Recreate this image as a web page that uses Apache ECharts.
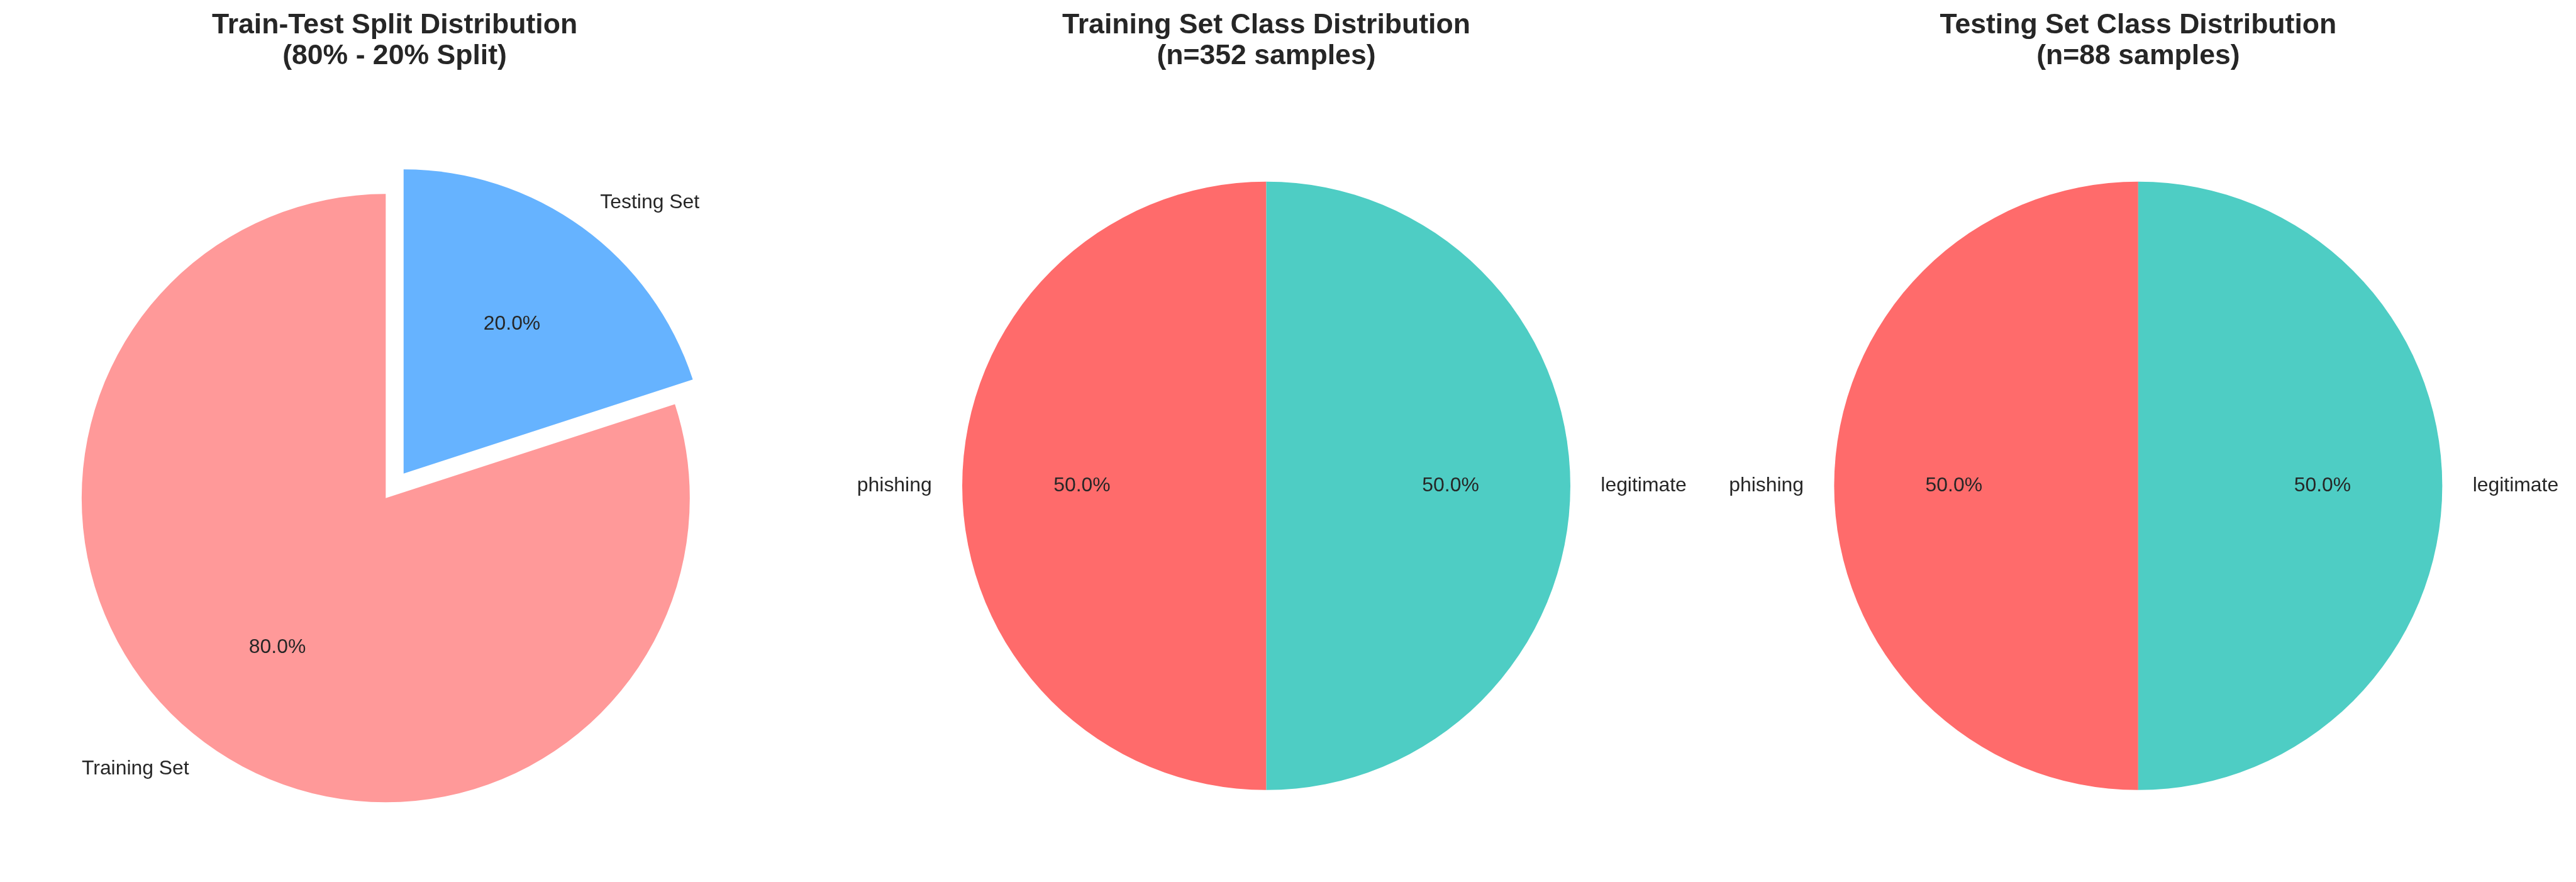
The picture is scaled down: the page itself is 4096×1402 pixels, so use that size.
<!DOCTYPE html>
<html>
<head>
<meta charset="utf-8">
<script src="https://cdn.jsdelivr.net/npm/echarts@6/dist/echarts.min.js"></script>
<style>
html,body{margin:0;padding:0;background:#fff;}
#chart{width:4096px;height:1402px;}
</style>
</head>
<body>
<div id="chart"></div>
<script>
// ---- data ----
const splitNames = ['Training Set', 'Testing Set'];
const splitValues = [352, 88];
const splitExplode = [0.05, 0.05];
const classNames = ['phishing', 'legitimate'];
const trainClassValues = [176, 176];
const testClassValues = [44, 44];
const titles = [
  'Train-Test Split Distribution\n(80% - 20% Split)',
  'Training Set Class Distribution\n(n=352 samples)',
  'Testing Set Class Distribution\n(n=88 samples)'
];

// ---- styling / layout ----
const S = 0.765;
const R = 632 * S;
const CY = 1009.5 * S;
const CX = [820.3 * S, 2632 * S, 4444.3 * S];
const splitColors = ['#ff9999', '#66b3ff'];
const classColors = ['#ff6b6b', '#4ecdc4'];
const TXT = '#262626';
const FONT = '"Liberation Sans", Arial, sans-serif';
const labelSize = 41.7 * S;

function pieSeries(cx, names, values, colors, explode) {
  const exploded = explode && explode.some(e => e > 0);
  const off = exploded ? explode[0] * R : 0;
  const common = {
    type: 'pie',
    center: [cx, CY],
    startAngle: 90,
    clockwise: false,
    avoidLabelOverlap: false,
    animation: false,
    selectedMode: exploded ? 'multiple' : false,
    selectedOffset: off,
    emphasis: { disabled: true, scale: false },
    silent: true
  };
  const fill = Object.assign({}, common, {
    radius: [0, R],
    itemStyle: { borderWidth: 0 },
    label: {
      show: true,
      position: 'outside',
      color: TXT,
      fontFamily: FONT,
      fontSize: labelSize,
      distanceToLabelLine: 0,
      formatter: p => p.name
    },
    labelLine: { show: false, length: 0.1 * R, length2: 0 },
    data: names.map((n, i) => ({
      name: n, value: values[i], selected: exploded,
      itemStyle: { color: colors[i], borderWidth: 0 },
      select: { itemStyle: { color: colors[i], borderWidth: 0 } }
    }))
  });
  const pct = Object.assign({}, common, {
    radius: [0.2 * R, R],
    itemStyle: { color: 'rgba(0,0,0,0)', borderWidth: 0 },
    label: {
      show: true,
      position: 'inside',
      color: TXT,
      fontFamily: FONT,
      fontSize: labelSize,
      formatter: p => p.percent.toFixed(1) + '%'
    },
    labelLine: { show: false },
    data: names.map((n, i) => ({
      name: n, value: values[i], selected: exploded,
      itemStyle: { color: 'rgba(0,0,0,0)', borderWidth: 0 },
      select: { itemStyle: { color: 'rgba(0,0,0,0)', borderWidth: 0 } }
    }))
  });
  return [fill, pct];
}

const chart = echarts.init(document.getElementById('chart'), null, { renderer: 'canvas' });
chart.setOption({
  backgroundColor: '#ffffff',
  animation: false,
  title: titles.map((t, i) => ({
    text: t,
    left: CX[i],
    top: 16.9,
    padding: 0,
    textAlign: 'center',
    textStyle: {
      color: TXT,
      fontFamily: FONT,
      fontWeight: 'bold',
      fontSize: 58.3 * S,
      lineHeight: 63.3 * S
    }
  })),
  series: [].concat(
    pieSeries(CX[0], splitNames, splitValues, splitColors, splitExplode),
    pieSeries(CX[1], classNames, trainClassValues, classColors, null),
    pieSeries(CX[2], classNames, testClassValues, classColors, null)
  )
});
</script>
</body>
</html>
